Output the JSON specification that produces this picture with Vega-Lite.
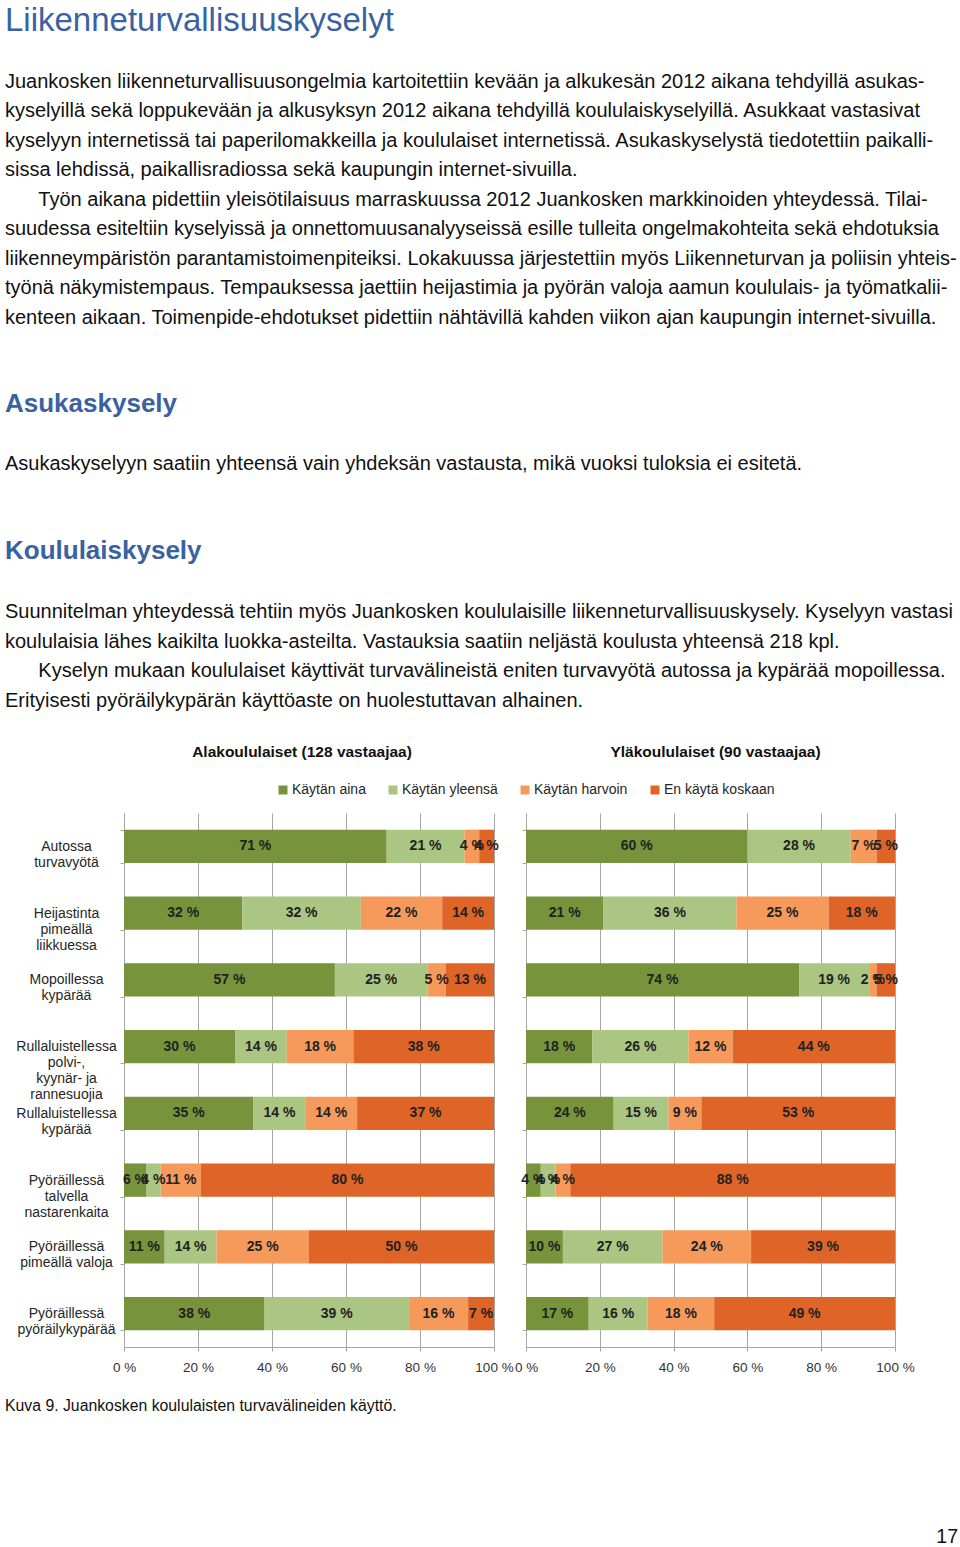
{
  "$schema": "https://vega.github.io/schema/vega-lite/v6.json",
  "padding": {"left": 5, "top": 4, "right": 0, "bottom": 0},
  "background": "white",
  "config": {
    "view": {"stroke": null},
    "font": "Liberation Sans",
    "title": {"font": "Liberation Sans", "subtitleFont": "Liberation Sans", "frame": "group"}
  },
  "datasets": {
    "kyselyt": [
      {"taso": "Alakoululaiset", "kohde": "Autossa turvavyötä", "vastaus": "Käytän aina", "koodi": 1, "osuus": 71},
      {"taso": "Alakoululaiset", "kohde": "Autossa turvavyötä", "vastaus": "Käytän yleensä", "koodi": 2, "osuus": 21},
      {"taso": "Alakoululaiset", "kohde": "Autossa turvavyötä", "vastaus": "Käytän harvoin", "koodi": 3, "osuus": 4},
      {"taso": "Alakoululaiset", "kohde": "Autossa turvavyötä", "vastaus": "En käytä koskaan", "koodi": 4, "osuus": 4},
      {"taso": "Alakoululaiset", "kohde": "Heijastinta pimeällä liikkuessa", "vastaus": "Käytän aina", "koodi": 1, "osuus": 32},
      {"taso": "Alakoululaiset", "kohde": "Heijastinta pimeällä liikkuessa", "vastaus": "Käytän yleensä", "koodi": 2, "osuus": 32},
      {"taso": "Alakoululaiset", "kohde": "Heijastinta pimeällä liikkuessa", "vastaus": "Käytän harvoin", "koodi": 3, "osuus": 22},
      {"taso": "Alakoululaiset", "kohde": "Heijastinta pimeällä liikkuessa", "vastaus": "En käytä koskaan", "koodi": 4, "osuus": 14},
      {"taso": "Alakoululaiset", "kohde": "Mopoillessa kypärää", "vastaus": "Käytän aina", "koodi": 1, "osuus": 57},
      {"taso": "Alakoululaiset", "kohde": "Mopoillessa kypärää", "vastaus": "Käytän yleensä", "koodi": 2, "osuus": 25},
      {"taso": "Alakoululaiset", "kohde": "Mopoillessa kypärää", "vastaus": "Käytän harvoin", "koodi": 3, "osuus": 5},
      {"taso": "Alakoululaiset", "kohde": "Mopoillessa kypärää", "vastaus": "En käytä koskaan", "koodi": 4, "osuus": 13},
      {"taso": "Alakoululaiset", "kohde": "Rullaluistellessa polvi-, kyynär- ja rannesuojia", "vastaus": "Käytän aina", "koodi": 1, "osuus": 30},
      {"taso": "Alakoululaiset", "kohde": "Rullaluistellessa polvi-, kyynär- ja rannesuojia", "vastaus": "Käytän yleensä", "koodi": 2, "osuus": 14},
      {"taso": "Alakoululaiset", "kohde": "Rullaluistellessa polvi-, kyynär- ja rannesuojia", "vastaus": "Käytän harvoin", "koodi": 3, "osuus": 18},
      {"taso": "Alakoululaiset", "kohde": "Rullaluistellessa polvi-, kyynär- ja rannesuojia", "vastaus": "En käytä koskaan", "koodi": 4, "osuus": 38},
      {"taso": "Alakoululaiset", "kohde": "Rullaluistellessa kypärää", "vastaus": "Käytän aina", "koodi": 1, "osuus": 35},
      {"taso": "Alakoululaiset", "kohde": "Rullaluistellessa kypärää", "vastaus": "Käytän yleensä", "koodi": 2, "osuus": 14},
      {"taso": "Alakoululaiset", "kohde": "Rullaluistellessa kypärää", "vastaus": "Käytän harvoin", "koodi": 3, "osuus": 14},
      {"taso": "Alakoululaiset", "kohde": "Rullaluistellessa kypärää", "vastaus": "En käytä koskaan", "koodi": 4, "osuus": 37},
      {"taso": "Alakoululaiset", "kohde": "Pyöräillessä talvella nastarenkaita", "vastaus": "Käytän aina", "koodi": 1, "osuus": 6},
      {"taso": "Alakoululaiset", "kohde": "Pyöräillessä talvella nastarenkaita", "vastaus": "Käytän yleensä", "koodi": 2, "osuus": 4},
      {"taso": "Alakoululaiset", "kohde": "Pyöräillessä talvella nastarenkaita", "vastaus": "Käytän harvoin", "koodi": 3, "osuus": 11},
      {"taso": "Alakoululaiset", "kohde": "Pyöräillessä talvella nastarenkaita", "vastaus": "En käytä koskaan", "koodi": 4, "osuus": 80},
      {"taso": "Alakoululaiset", "kohde": "Pyöräillessä pimeällä valoja", "vastaus": "Käytän aina", "koodi": 1, "osuus": 11},
      {"taso": "Alakoululaiset", "kohde": "Pyöräillessä pimeällä valoja", "vastaus": "Käytän yleensä", "koodi": 2, "osuus": 14},
      {"taso": "Alakoululaiset", "kohde": "Pyöräillessä pimeällä valoja", "vastaus": "Käytän harvoin", "koodi": 3, "osuus": 25},
      {"taso": "Alakoululaiset", "kohde": "Pyöräillessä pimeällä valoja", "vastaus": "En käytä koskaan", "koodi": 4, "osuus": 50},
      {"taso": "Alakoululaiset", "kohde": "Pyöräillessä pyöräilykypärää", "vastaus": "Käytän aina", "koodi": 1, "osuus": 38},
      {"taso": "Alakoululaiset", "kohde": "Pyöräillessä pyöräilykypärää", "vastaus": "Käytän yleensä", "koodi": 2, "osuus": 39},
      {"taso": "Alakoululaiset", "kohde": "Pyöräillessä pyöräilykypärää", "vastaus": "Käytän harvoin", "koodi": 3, "osuus": 16},
      {"taso": "Alakoululaiset", "kohde": "Pyöräillessä pyöräilykypärää", "vastaus": "En käytä koskaan", "koodi": 4, "osuus": 7},
      {"taso": "Yläkoululaiset", "kohde": "Autossa turvavyötä", "vastaus": "Käytän aina", "koodi": 1, "osuus": 60},
      {"taso": "Yläkoululaiset", "kohde": "Autossa turvavyötä", "vastaus": "Käytän yleensä", "koodi": 2, "osuus": 28},
      {"taso": "Yläkoululaiset", "kohde": "Autossa turvavyötä", "vastaus": "Käytän harvoin", "koodi": 3, "osuus": 7},
      {"taso": "Yläkoululaiset", "kohde": "Autossa turvavyötä", "vastaus": "En käytä koskaan", "koodi": 4, "osuus": 5},
      {"taso": "Yläkoululaiset", "kohde": "Heijastinta pimeällä liikkuessa", "vastaus": "Käytän aina", "koodi": 1, "osuus": 21},
      {"taso": "Yläkoululaiset", "kohde": "Heijastinta pimeällä liikkuessa", "vastaus": "Käytän yleensä", "koodi": 2, "osuus": 36},
      {"taso": "Yläkoululaiset", "kohde": "Heijastinta pimeällä liikkuessa", "vastaus": "Käytän harvoin", "koodi": 3, "osuus": 25},
      {"taso": "Yläkoululaiset", "kohde": "Heijastinta pimeällä liikkuessa", "vastaus": "En käytä koskaan", "koodi": 4, "osuus": 18},
      {"taso": "Yläkoululaiset", "kohde": "Mopoillessa kypärää", "vastaus": "Käytän aina", "koodi": 1, "osuus": 74},
      {"taso": "Yläkoululaiset", "kohde": "Mopoillessa kypärää", "vastaus": "Käytän yleensä", "koodi": 2, "osuus": 19},
      {"taso": "Yläkoululaiset", "kohde": "Mopoillessa kypärää", "vastaus": "Käytän harvoin", "koodi": 3, "osuus": 2},
      {"taso": "Yläkoululaiset", "kohde": "Mopoillessa kypärää", "vastaus": "En käytä koskaan", "koodi": 4, "osuus": 5},
      {"taso": "Yläkoululaiset", "kohde": "Rullaluistellessa polvi-, kyynär- ja rannesuojia", "vastaus": "Käytän aina", "koodi": 1, "osuus": 18},
      {"taso": "Yläkoululaiset", "kohde": "Rullaluistellessa polvi-, kyynär- ja rannesuojia", "vastaus": "Käytän yleensä", "koodi": 2, "osuus": 26},
      {"taso": "Yläkoululaiset", "kohde": "Rullaluistellessa polvi-, kyynär- ja rannesuojia", "vastaus": "Käytän harvoin", "koodi": 3, "osuus": 12},
      {"taso": "Yläkoululaiset", "kohde": "Rullaluistellessa polvi-, kyynär- ja rannesuojia", "vastaus": "En käytä koskaan", "koodi": 4, "osuus": 44},
      {"taso": "Yläkoululaiset", "kohde": "Rullaluistellessa kypärää", "vastaus": "Käytän aina", "koodi": 1, "osuus": 24},
      {"taso": "Yläkoululaiset", "kohde": "Rullaluistellessa kypärää", "vastaus": "Käytän yleensä", "koodi": 2, "osuus": 15},
      {"taso": "Yläkoululaiset", "kohde": "Rullaluistellessa kypärää", "vastaus": "Käytän harvoin", "koodi": 3, "osuus": 9},
      {"taso": "Yläkoululaiset", "kohde": "Rullaluistellessa kypärää", "vastaus": "En käytä koskaan", "koodi": 4, "osuus": 53},
      {"taso": "Yläkoululaiset", "kohde": "Pyöräillessä talvella nastarenkaita", "vastaus": "Käytän aina", "koodi": 1, "osuus": 4},
      {"taso": "Yläkoululaiset", "kohde": "Pyöräillessä talvella nastarenkaita", "vastaus": "Käytän yleensä", "koodi": 2, "osuus": 4},
      {"taso": "Yläkoululaiset", "kohde": "Pyöräillessä talvella nastarenkaita", "vastaus": "Käytän harvoin", "koodi": 3, "osuus": 4},
      {"taso": "Yläkoululaiset", "kohde": "Pyöräillessä talvella nastarenkaita", "vastaus": "En käytä koskaan", "koodi": 4, "osuus": 88},
      {"taso": "Yläkoululaiset", "kohde": "Pyöräillessä pimeällä valoja", "vastaus": "Käytän aina", "koodi": 1, "osuus": 10},
      {"taso": "Yläkoululaiset", "kohde": "Pyöräillessä pimeällä valoja", "vastaus": "Käytän yleensä", "koodi": 2, "osuus": 27},
      {"taso": "Yläkoululaiset", "kohde": "Pyöräillessä pimeällä valoja", "vastaus": "Käytän harvoin", "koodi": 3, "osuus": 24},
      {"taso": "Yläkoululaiset", "kohde": "Pyöräillessä pimeällä valoja", "vastaus": "En käytä koskaan", "koodi": 4, "osuus": 39},
      {"taso": "Yläkoululaiset", "kohde": "Pyöräillessä pyöräilykypärää", "vastaus": "Käytän aina", "koodi": 1, "osuus": 17},
      {"taso": "Yläkoululaiset", "kohde": "Pyöräillessä pyöräilykypärää", "vastaus": "Käytän yleensä", "koodi": 2, "osuus": 16},
      {"taso": "Yläkoululaiset", "kohde": "Pyöräillessä pyöräilykypärää", "vastaus": "Käytän harvoin", "koodi": 3, "osuus": 18},
      {"taso": "Yläkoululaiset", "kohde": "Pyöräillessä pyöräilykypärää", "vastaus": "En käytä koskaan", "koodi": 4, "osuus": 49}
    ]
  },
  "spacing": 0,
  "resolve": {"scale": {"color": "independent"}, "legend": {"color": "independent"}},
  "vconcat": [
    {
      "width": 834,
      "height": 63,
      "data": {"values": []},
      "mark": "text",
      "title": {
        "text": "Liikenneturvallisuuskyselyt",
        "anchor": "start",
        "offset": 0,
        "dx": -119,
        "fontSize": 33,
        "fontWeight": "normal",
        "color": "#3a62a0",
        "subtitle": [
          "Juankosken liikenneturvallisuusongelmia kartoitettiin kevään ja alkukesän 2012 aikana tehdyillä asukas-",
          "kyselyillä sekä loppukevään ja alkusyksyn 2012 aikana tehdyillä koululaiskyselyillä. Asukkaat vastasivat",
          "kyselyyn internetissä tai paperilomakkeilla ja koululaiset internetissä. Asukaskyselystä tiedotettiin paikalli-",
          "sissa lehdissä, paikallisradiossa sekä kaupungin internet-sivuilla.",
          "\u200b\u00a0\u00a0\u00a0\u00a0\u00a0\u00a0Työn aikana pidettiin yleisötilaisuus marraskuussa 2012 Juankosken markkinoiden yhteydessä. Tilai-",
          "suudessa esiteltiin kyselyissä ja onnettomuusanalyyseissä esille tulleita ongelmakohteita sekä ehdotuksia",
          "liikenneympäristön parantamistoimenpiteiksi. Lokakuussa järjestettiin myös Liikenneturvan ja poliisin yhteis-",
          "työnä näkymistempaus. Tempauksessa jaettiin heijastimia ja pyörän valoja aamun koululais- ja työmatkalii-",
          "kenteen aikaan. Toimenpide-ehdotukset pidettiin nähtävillä kahden viikon ajan kaupungin internet-sivuilla."
        ],
        "subtitleFontSize": 20,
        "subtitleColor": "#111111",
        "subtitleLineHeight": 29.55,
        "subtitlePadding": 34
      }
    },
    {
      "width": 834,
      "height": 64,
      "data": {"values": []},
      "mark": "text",
      "title": {
        "text": "Asukaskysely",
        "anchor": "start",
        "offset": 0,
        "dx": -119,
        "fontSize": 26,
        "fontWeight": "bold",
        "color": "#3a62a0",
        "subtitle": ["Asukaskyselyyn saatiin yhteensä vain yhdeksän vastausta, mikä vuoksi tuloksia ei esitetä."],
        "subtitleFontSize": 20,
        "subtitleColor": "#111111",
        "subtitleLineHeight": 29.6,
        "subtitlePadding": 37
      }
    },
    {
      "width": 834,
      "height": 34,
      "data": {"values": []},
      "mark": "text",
      "title": {
        "text": "Koululaiskysely",
        "anchor": "start",
        "offset": 0,
        "dx": -119,
        "fontSize": 26,
        "fontWeight": "bold",
        "color": "#3a62a0",
        "subtitle": [
          "Suunnitelman yhteydessä tehtiin myös Juankosken koululaisille liikenneturvallisuuskysely. Kyselyyn vastasi",
          "koululaisia lähes kaikilta luokka-asteilta. Vastauksia saatiin neljästä koulusta yhteensä 218 kpl.",
          "\u200b\u00a0\u00a0\u00a0\u00a0\u00a0\u00a0Kyselyn mukaan koululaiset käyttivät turvavälineistä eniten turvavyötä autossa ja kypärää mopoillessa.",
          "Erityisesti pyöräilykypärän käyttöaste on huolestuttavan alhainen."
        ],
        "subtitleFontSize": 20,
        "subtitleColor": "#111111",
        "subtitleLineHeight": 29.6,
        "subtitlePadding": 38
      }
    },
    {
      "hconcat": [
        {
          "title": {"text": "Alakoululaiset (128 vastaajaa)", "anchor": "middle", "offset": 22.5, "dx": -7, "fontSize": 15.5, "fontWeight": "bold", "color": "#111111"},
          "width": 370,
          "height": 534,
          "data": {"name": "kyselyt"},
          "transform": [{"filter": "datum.taso === 'Alakoululaiset'"}],
          "encoding": {
            "y": {
              "field": "kohde",
              "type": "nominal",
              "sort": ["Autossa turvavyötä", "Heijastinta pimeällä liikkuessa", "Mopoillessa kypärää", "Rullaluistellessa polvi-, kyynär- ja rannesuojia", "Rullaluistellessa kypärää", "Pyöräillessä talvella nastarenkaita", "Pyöräillessä pimeällä valoja", "Pyöräillessä pyöräilykypärää"],
              "scale": {"paddingInner": 0.5, "paddingOuter": 0.25},
              "axis": {
                "title": null,
                "labelFont": "Liberation Sans",
                "labelFontSize": 14,
                "labelColor": "#262626",
                "labelAlign": "center",
                "labelBaseline": "middle",
                "labelPadding": 54,
                "labelLineHeight": 16,
                "labelLimit": 0,
                "tickSize": 4,
                "tickColor": "#a6a6a6",
                "domainColor": "#a6a6a6",
                "tickBand": "extent",
                "minExtent": 119,
                "maxExtent": 119,
                "labelExpr": "datum.label == 'Rullaluistellessa polvi-, kyynär- ja rannesuojia' ? ['Rullaluistellessa', 'polvi-,', 'kyynär- ja', 'rannesuojia'] : datum.label == 'Pyöräillessä pimeällä valoja' ? ['Pyöräillessä', 'pimeällä valoja'] : split(datum.label, ' ')"
              }
            },
            "order": {"field": "koodi", "type": "quantitative"}
          },
          "layer": [
            {
              "mark": {"type": "bar"},
              "encoding": {
                "x": {
                  "field": "osuus", "type": "quantitative", "stack": "normalize",
                  "scale": {"domain": [0, 1], "nice": false},
                  "axis": {"title": null, "values": [0, 0.2, 0.4, 0.6, 0.8, 1], "labelExpr": "replace(format(datum.value, '.0%'), '%', ' %')", "grid": true, "gridColor": "#a6a6a6", "domainColor": "#a6a6a6", "tickColor": "#a6a6a6", "tickSize": 4, "labelPadding": 9, "labelFont": "Liberation Sans", "labelFontSize": 13.5, "labelColor": "#333333", "labelFlush": false, "labelOverlap": false}
                },
                "color": {
                  "field": "vastaus", "type": "nominal",
                  "scale": {"domain": ["Käytän aina", "Käytän yleensä", "Käytän harvoin", "En käytä koskaan"], "range": ["#77933c", "#abc582", "#f69a5c", "#de6427"]},
                  "legend": {"title": null, "orient": "none", "direction": "horizontal", "legendX": 152, "legendY": -30, "padding": 0, "symbolType": "square", "symbolSize": 81, "symbolStrokeWidth": 0, "labelFont": "Liberation Sans", "labelFontSize": 14, "labelColor": "#262626", "labelOffset": 2, "columnPadding": 20}
                }
              }
            },
            {
              "mark": {"type": "text", "font": "Liberation Sans", "fontSize": 14, "fontWeight": "bold", "color": "#222222", "text": {"expr": "datum.osuus + ' %'"}},
              "encoding": {
                "x": {
                  "field": "osuus", "type": "quantitative", "stack": "normalize", "bandPosition": 0.5,
                  "scale": {"domain": [0, 1], "nice": false},
                  "axis": {"title": null, "values": [0, 0.2, 0.4, 0.6, 0.8, 1], "labelExpr": "replace(format(datum.value, '.0%'), '%', ' %')", "grid": true, "gridColor": "#a6a6a6", "domainColor": "#a6a6a6", "tickColor": "#a6a6a6", "tickSize": 4, "labelPadding": 9, "labelFont": "Liberation Sans", "labelFontSize": 13.5, "labelColor": "#333333", "labelFlush": false, "labelOverlap": false}
                },
                "detail": {"field": "vastaus", "type": "nominal"}
              }
            }
          ]
        },
        {
          "title": {"text": "Yläkoululaiset (90 vastaajaa)", "anchor": "middle", "offset": 52.5, "dx": 5, "fontSize": 15.5, "fontWeight": "bold", "color": "#111111"},
          "width": 369,
          "height": 534,
          "data": {"name": "kyselyt"},
          "transform": [{"filter": "datum.taso === 'Yläkoululaiset'"}],
          "encoding": {
            "y": {
              "field": "kohde",
              "type": "nominal",
              "sort": ["Autossa turvavyötä", "Heijastinta pimeällä liikkuessa", "Mopoillessa kypärää", "Rullaluistellessa polvi-, kyynär- ja rannesuojia", "Rullaluistellessa kypärää", "Pyöräillessä talvella nastarenkaita", "Pyöräillessä pimeällä valoja", "Pyöräillessä pyöräilykypärää"],
              "scale": {"paddingInner": 0.5, "paddingOuter": 0.25},
              "axis": {"title": null, "labels": false, "tickSize": 4, "tickColor": "#a6a6a6", "domainColor": "#a6a6a6", "tickBand": "extent", "minExtent": 4, "maxExtent": 4}
            },
            "order": {"field": "koodi", "type": "quantitative"}
          },
          "layer": [
            {
              "mark": {"type": "bar"},
              "encoding": {
                "x": {
                  "field": "osuus", "type": "quantitative", "stack": "normalize",
                  "scale": {"domain": [0, 1], "nice": false},
                  "axis": {"title": null, "values": [0, 0.2, 0.4, 0.6, 0.8, 1], "labelExpr": "replace(format(datum.value, '.0%'), '%', ' %')", "grid": true, "gridColor": "#a6a6a6", "domainColor": "#a6a6a6", "tickColor": "#a6a6a6", "tickSize": 4, "labelPadding": 9, "labelFont": "Liberation Sans", "labelFontSize": 13.5, "labelColor": "#333333", "labelFlush": false, "labelOverlap": false}
                },
                "color": {
                  "field": "vastaus", "type": "nominal",
                  "scale": {"domain": ["Käytän aina", "Käytän yleensä", "Käytän harvoin", "En käytä koskaan"], "range": ["#77933c", "#abc582", "#f69a5c", "#de6427"]},
                  "legend": null
                }
              }
            },
            {
              "mark": {"type": "text", "font": "Liberation Sans", "fontSize": 14, "fontWeight": "bold", "color": "#222222", "text": {"expr": "datum.osuus + ' %'"}},
              "encoding": {
                "x": {
                  "field": "osuus", "type": "quantitative", "stack": "normalize", "bandPosition": 0.5,
                  "scale": {"domain": [0, 1], "nice": false},
                  "axis": {"title": null, "values": [0, 0.2, 0.4, 0.6, 0.8, 1], "labelExpr": "replace(format(datum.value, '.0%'), '%', ' %')", "grid": true, "gridColor": "#a6a6a6", "domainColor": "#a6a6a6", "tickColor": "#a6a6a6", "tickSize": 4, "labelPadding": 9, "labelFont": "Liberation Sans", "labelFontSize": 13.5, "labelColor": "#333333", "labelFlush": false, "labelOverlap": false}
                },
                "detail": {"field": "vastaus", "type": "nominal"}
              }
            }
          ]
        }
      ],
      "spacing": 32,
      "bounds": "flush",
      "resolve": {"scale": {"color": "independent"}, "legend": {"color": "independent"}}
    },
    {
      "width": 834,
      "height": 25,
      "data": {"values": []},
      "mark": "text",
      "title": {"text": "Kuva 9. Juankosken koululaisten turvavälineiden käyttö.", "orient": "bottom", "anchor": "start", "offset": 0, "dx": -119, "fontSize": 15.8, "fontWeight": "normal", "color": "#111111"}
    },
    {
      "width": 834,
      "height": 114,
      "data": {"values": []},
      "mark": "text",
      "title": {"text": "17", "orient": "bottom", "anchor": "end", "offset": 0, "fontSize": 19.5, "fontWeight": "normal", "color": "#111111"}
    }
  ]
}
